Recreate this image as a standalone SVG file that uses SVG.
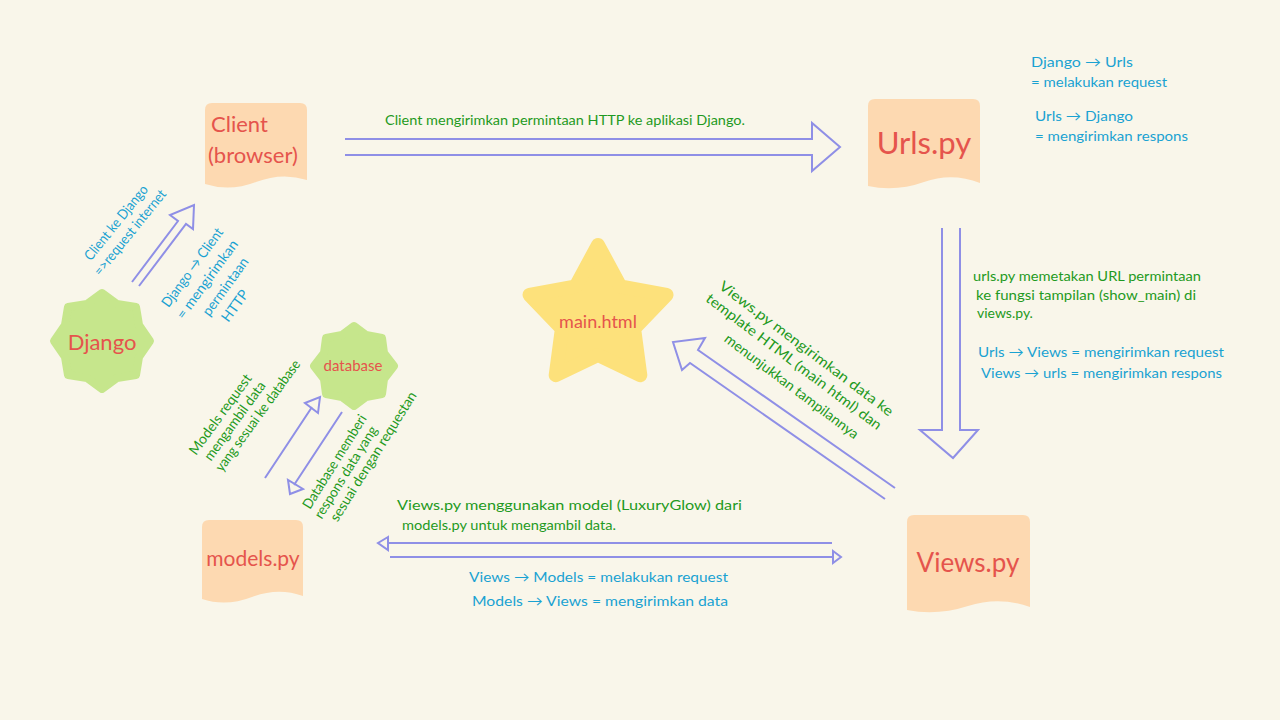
<svg xmlns="http://www.w3.org/2000/svg" width="1280" height="720" viewBox="0 0 1280 720">
<defs>
<style>
text{font-family:"Lato","Open Sans","Liberation Sans",sans-serif;}
.red{fill:#e5544c;}
.grn{fill:#1f9a22;font-size:14px;}
.blu{fill:#1aa2d2;font-size:14px;}
.doc{fill:#fdd9b1;}
.burst{fill:#c6e68c;stroke:#c6e68c;stroke-width:8;stroke-linejoin:round;}
.arr{fill:none;stroke:#8f8fe6;stroke-width:2;stroke-linejoin:miter;}
</style>
</defs>
<rect width="1280" height="720" fill="#f9f6ea"/>

<g id="connectors">
<path class="arr" d="M345,139 L812,139 L812,123 L840,147 L812,171 L812,155 L345,155"/>
<path class="arr" d="M942,228 L942,430 L920,430 L953,458 L978,430 L960,430 L960,228"/>
<path class="arr" d="M895,488 L698,350 L705,338 L673,342 L682,370 L690,363 L885,499"/>
<path class="arr" d="M132,282 L178,221 L170,215 L194,205 L193,229 L186,224 L139,286"/>
<path class="arr" d="M265,478 L312,407 M305,403 L320,397 L318,413 Z"/>
<path class="arr" d="M342,412 L294,485 M288,480 L290,494 L303,489 Z"/>
<path class="arr" d="M832,543 L388,543 M388,537 L378,543 L388,550 Z"/>
<path class="arr" d="M390,557 L833,557 M833,551 L841,557 L833,563 Z"/>
</g>

<g id="client">
<path class="doc" d="M212,103 H300 Q307,103 307,110 V180 Q282,172 256,182 T205,184 V110 Q205,103 212,103 Z"/>
<text class="red" x="211" y="132" font-size="22">Client</text>
<text class="red" x="208" y="163" font-size="22">(browser)</text>
</g>

<g id="urls">
<path class="doc" d="M875,99 H973 Q980,99 980,106 V183 Q952,172 924,182 T868,186 V106 Q868,99 875,99 Z"/>
<text class="red" x="924" y="154" font-size="31" text-anchor="middle">Urls.py</text>
</g>

<g id="views">
<path class="doc" d="M914,515 H1023 Q1030,515 1030,522 V607 Q999,596 968,606 T907,610 V522 Q907,515 914,515 Z"/>
<text class="red" x="968" y="572" font-size="26" text-anchor="middle">Views.py</text>
</g>

<g id="models">
<path class="doc" d="M209,520 H296 Q303,520 303,527 V596 Q278,587 252,597 T202,599 V527 Q202,520 209,520 Z"/>
<text class="red" x="253" y="566" font-size="21" text-anchor="middle">models.py</text>
</g>

<g id="django">
<polygon class="burst" points="102,293 117,304 136,307 139,325 150,341 139,357 136,375 117,378 102,389 87,378 68,375 65,357 54,341 65,325 68,307 87,304"/>
<text class="red" x="102" y="350" font-size="22" text-anchor="middle">Django</text>
</g>

<g id="database">
<polygon class="burst" points="354,326 366,335 382,338 384,353 394,366 384,379 382,394 366,397 354,406 342,397 326,394 324,379 314,366 324,353 326,338 342,335"/>
<text class="red" x="353" y="371" font-size="15" text-anchor="middle">database</text>
</g>

<g id="main-html">
<polygon points="598,245 620.3,286.3 666.5,294.8 634.1,328.7 640.3,375.2 598,355 555.7,375.2 561.9,328.7 529.5,294.8 575.7,286.3" fill="#fde17b" stroke="#fde17b" stroke-width="14" stroke-linejoin="round"/>
<text class="red" x="598" y="328" font-size="18" text-anchor="middle">main.html</text>
</g>

<g id="labels">
<text class="grn" x="385" y="125" font-size="15" textLength="360" lengthAdjust="spacingAndGlyphs">Client mengirimkan permintaan HTTP ke aplikasi Django.</text>

<text class="blu" x="1031" y="67" font-size="16" textLength="102" lengthAdjust="spacingAndGlyphs">Django → Urls</text>
<text class="blu" x="1031" y="87" font-size="15" textLength="136" lengthAdjust="spacingAndGlyphs">= melakukan request</text>
<text class="blu" x="1035" y="121" font-size="16" textLength="98" lengthAdjust="spacingAndGlyphs">Urls → Django</text>
<text class="blu" x="1035" y="141" font-size="15" textLength="153" lengthAdjust="spacingAndGlyphs">= mengirimkan respons</text>

<text class="grn" x="973" y="281" font-size="13" textLength="228" lengthAdjust="spacingAndGlyphs">urls.py memetakan URL permintaan</text>
<text class="grn" x="976" y="300" font-size="13" textLength="220" lengthAdjust="spacingAndGlyphs">ke fungsi tampilan (show_main) di</text>
<text class="grn" x="977" y="318" font-size="13">views.py.</text>

<text class="blu" x="978" y="357" font-size="13" textLength="246" lengthAdjust="spacingAndGlyphs">Urls → Views = mengirimkan request</text>
<text class="blu" x="981" y="378" font-size="13" textLength="241" lengthAdjust="spacingAndGlyphs">Views → urls = mengirimkan respons</text>

<text class="grn" x="397" y="510" font-size="14" textLength="345" lengthAdjust="spacingAndGlyphs">Views.py menggunakan model (LuxuryGlow) dari</text>
<text class="grn" x="402" y="530" font-size="14" textLength="214" lengthAdjust="spacingAndGlyphs">models.py untuk mengambil data.</text>

<text class="blu" x="469" y="582" font-size="15" textLength="259" lengthAdjust="spacingAndGlyphs">Views → Models = melakukan request</text>
<text class="blu" x="472" y="606" font-size="15" textLength="256" lengthAdjust="spacingAndGlyphs">Models → Views = mengirimkan data</text>

<g transform="translate(718,288) rotate(37)">
<text class="grn" x="0" y="0" font-size="12.5" textLength="214" lengthAdjust="spacingAndGlyphs">Views.py mengirimkan data ke</text>
<text class="grn" x="-3" y="18" font-size="12.5" textLength="216" lengthAdjust="spacingAndGlyphs">template HTML (main html) dan</text>
<text class="grn" x="36" y="39" font-size="12.5" textLength="164" lengthAdjust="spacingAndGlyphs">menunjukkan tampilannya</text>
</g>

<g transform="translate(119,225) rotate(-51)">
<text class="blu" x="0" y="1" font-size="11.5" text-anchor="middle" textLength="92" lengthAdjust="spacingAndGlyphs">Client ke Django</text>
<text class="blu" x="1" y="18" font-size="11.5" text-anchor="middle" textLength="106" lengthAdjust="spacingAndGlyphs">=&gt;request internet</text>
</g>

<g transform="translate(193,268) rotate(-54)">
<text class="blu" x="0" y="4" font-size="11.5" text-anchor="middle" textLength="94" lengthAdjust="spacingAndGlyphs">Django → Client</text>
<text class="blu" x="-1" y="23" font-size="11.5" text-anchor="middle" textLength="94" lengthAdjust="spacingAndGlyphs">= mengirimkan</text>
<text class="blu" x="4" y="42" font-size="11.5" text-anchor="middle" textLength="68" lengthAdjust="spacingAndGlyphs">permintaan</text>
<text class="blu" x="-6" y="61" font-size="11.5" text-anchor="middle">HTTP</text>
</g>

<g transform="translate(196,456) rotate(-54)">
<text class="grn" x="0" y="0" font-size="11" textLength="96" lengthAdjust="spacingAndGlyphs">Models request</text>
<text class="grn" x="4" y="15.5" font-size="11" textLength="94" lengthAdjust="spacingAndGlyphs">mengambil data</text>
<text class="grn" x="2" y="31" font-size="11" textLength="134" lengthAdjust="spacingAndGlyphs">yang sesuai ke database</text>
</g>

<g transform="translate(310,510) rotate(-58)">
<text class="grn" x="0" y="0" font-size="11" textLength="108" lengthAdjust="spacingAndGlyphs">Database memberi</text>
<text class="grn" x="-2" y="15" font-size="11" textLength="106" lengthAdjust="spacingAndGlyphs">respons data yang</text>
<text class="grn" x="4" y="30" font-size="11" textLength="150" lengthAdjust="spacingAndGlyphs">sesuai dengan requestan</text>
</g>
</g>
</svg>
